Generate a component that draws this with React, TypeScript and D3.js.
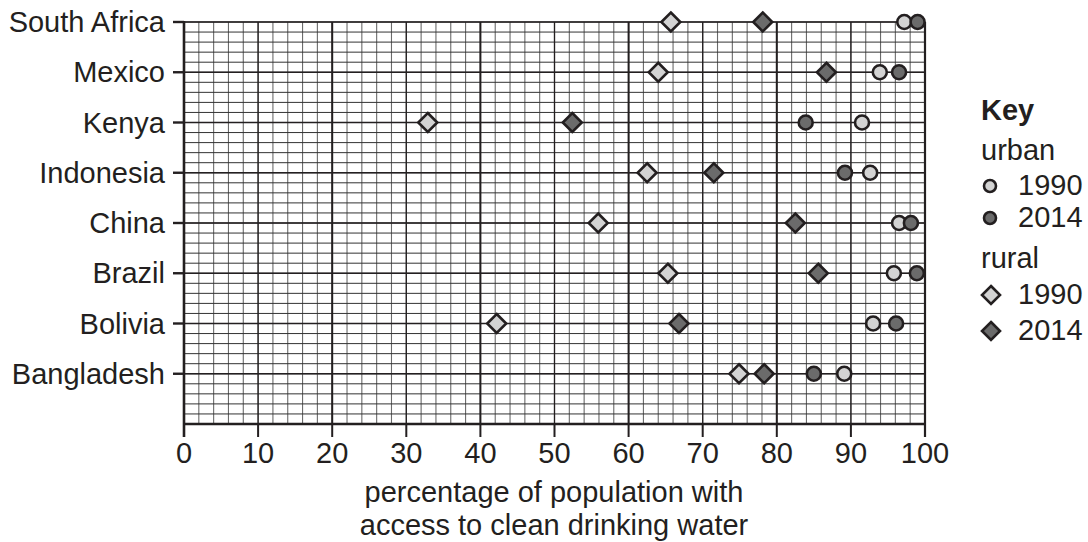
import React from 'react';
import { scaleLinear, range } from 'd3';

const countries = ['South Africa', 'Mexico', 'Kenya', 'Indonesia', 'China', 'Brazil', 'Bolivia', 'Bangladesh'];
const urban1990 = [97.2, 93.9, 91.5, 92.6, 96.5, 95.8, 93.0, 89.1];
const urban2014 = [99.0, 96.5, 83.9, 89.2, 98.1, 98.9, 96.1, 85.0];
const rural1990 = [65.7, 64.0, 32.9, 62.5, 55.9, 65.3, 42.2, 74.9];
const rural2014 = [78.1, 86.7, 52.4, 71.5, 82.5, 85.6, 66.8, 78.3];
const xTicks = [0, 10, 20, 30, 40, 50, 60, 70, 80, 90, 100];

const INK = '#231f20';
const LIGHT = '#d3d3d3';
const DARK = '#6b6b6b';
const FONT = '"Liberation Sans", Arial, Helvetica, sans-serif';
const FS = 29;

const x = scaleLinear().domain([0, 100]).range([184, 925]);
// rows counted from the bottom of the plot; 8 = top row
const y = scaleLinear().domain([0, 8]).range([424, 22]);
const rowY = (i: number) => y(8 - i);

const Diamond = ({ cx, cy, fill, s = 9.5 }: { cx: number; cy: number; fill: string; s?: number }) => (
  <path
    d={`M${cx},${cy - s}L${cx + s},${cy}L${cx},${cy + s}L${cx - s},${cy}Z`}
    fill={fill}
    stroke={INK}
    strokeWidth={2.6}
  />
);

const Dot = ({ cx, cy, fill, r = 7 }: { cx: number; cy: number; fill: string; r?: number }) => (
  <circle cx={cx} cy={cy} r={r} fill={fill} stroke={INK} strokeWidth={2.6} />
);

export default function App() {
  const minorX = range(0, 101, 2);
  const minorY = range(0, 8.01, 0.2);
  return (
    <svg width={1088} height={542} style={{ display: 'block', position: 'absolute', left: 0, top: 0, background: '#fff' }} fontFamily={FONT}>
      {/* grid */}
      <g>
        {minorX.map((v) => (
          <line key={'vx' + v} x1={x(v)} x2={x(v)} y1={y(0)} y2={y(8)} stroke="#6a6a6a" strokeWidth={1.1} />
        ))}
        {minorY.map((v, i) => (
          <line key={'hy' + i} x1={x(0)} x2={x(100)} y1={y(v)} y2={y(v)} stroke="#333" strokeWidth={1} />
        ))}
        {range(0, 101, 10).map((v) => (
          <line key={'mx' + v} x1={x(v)} x2={x(v)} y1={y(0)} y2={y(8)} stroke={INK} strokeWidth={v % 20 === 0 ? 2 : 1.3} />
        ))}
        {range(1, 9).map((v) => (
          <line key={'my' + v} x1={x(0)} x2={x(100)} y1={y(v)} y2={y(v)} stroke={INK} strokeWidth={1.6} />
        ))}
      </g>
      {/* axes */}
      <line x1={x(0)} x2={x(0)} y1={y(8) - 1} y2={y(0) + 13} stroke={INK} strokeWidth={2.6} />
      <line x1={x(0)} x2={x(100)} y1={y(0)} y2={y(0)} stroke={INK} strokeWidth={2.6} />
      <line x1={x(100)} x2={x(100)} y1={y(8)} y2={y(0) + 13} stroke={INK} strokeWidth={2.2} />
      {xTicks.map((t) => (
        <g key={'xt' + t}>
          <line x1={x(t)} x2={x(t)} y1={y(0)} y2={y(0) + 13} stroke={INK} strokeWidth={2} />
          <text x={x(t)} y={y(0) + 39} textAnchor="middle" fontSize={FS} fill={INK}>
            {t}
          </text>
        </g>
      ))}
      {countries.map((c, i) => (
        <g key={c}>
          <line x1={x(0) - 11} x2={x(0)} y1={rowY(i)} y2={rowY(i)} stroke={INK} strokeWidth={2.4} />
          <text x={x(0) - 19} y={rowY(i) + 10} textAnchor="end" fontSize={FS} fill={INK}>
            {c}
          </text>
        </g>
      ))}
      {/* markers */}
      {countries.map((c, i) => (
        <g key={'m' + c}>
          <Diamond cx={x(rural1990[i])} cy={rowY(i)} fill={LIGHT} />
          <Diamond cx={x(rural2014[i])} cy={rowY(i)} fill={DARK} />
          <Dot cx={x(urban1990[i])} cy={rowY(i)} fill={LIGHT} />
          <Dot cx={x(urban2014[i])} cy={rowY(i)} fill={DARK} />
        </g>
      ))}
      {/* axis title */}
      <text x={554} y={502} textAnchor="middle" fontSize={FS} fill={INK}>
        percentage of population with
      </text>
      <text x={554} y={535} textAnchor="middle" fontSize={FS} fill={INK}>
        access to clean drinking water
      </text>
      {/* key */}
      <g fill={INK} fontSize={FS}>
        <text x={981} y={120} fontWeight="bold">Key</text>
        <text x={981} y={160}>urban</text>
        <Dot cx={990} cy={186} r={6} fill={LIGHT} />
        <text x={1018} y={195}>1990</text>
        <Dot cx={990} cy={218} r={6} fill={DARK} />
        <text x={1018} y={227}>2014</text>
        <text x={981} y={268}>rural</text>
        <Diamond cx={991} cy={295} s={9} fill={LIGHT} />
        <text x={1018} y={304}>1990</text>
        <Diamond cx={991} cy={331} s={9} fill={DARK} />
        <text x={1018} y={340}>2014</text>
      </g>
    </svg>
  );
}
